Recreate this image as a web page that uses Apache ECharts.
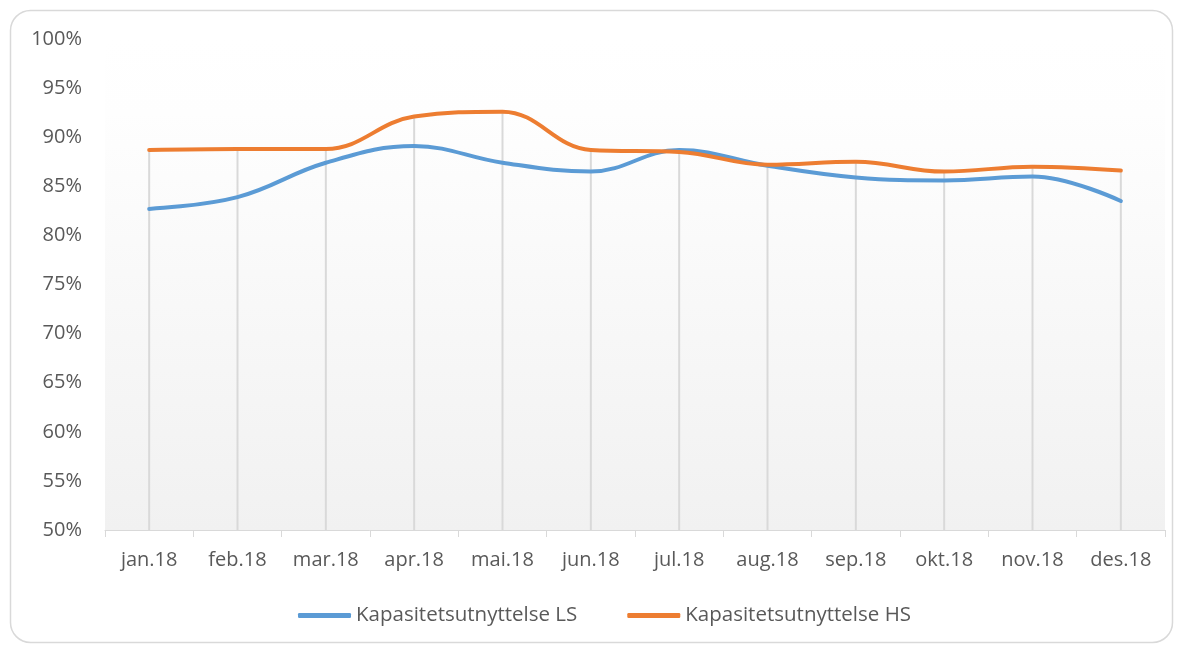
<!DOCTYPE html>
<html>
<head>
<meta charset="utf-8">
<script src="https://cdn.jsdelivr.net/npm/echarts@6/dist/echarts.min.js"></script>
<style>
  html, body { margin: 0; padding: 0; background: #ffffff; }
</style>
</head>
<body>
<div id="main" style="width: 1179px; height: 646px"></div>
<script>
var months = ["jan.18", "feb.18", "mar.18", "apr.18", "mai.18", "jun.18",
  "jul.18", "aug.18", "sep.18", "okt.18", "nov.18", "des.18"];

var dataLS = [82.7, 83.9, 87.4, 89.1, 87.4, 86.5, 88.7, 87.1, 85.9, 85.6, 86.0, 83.5];

var dataHS = [88.7, 88.8, 88.8, 92.1, 92.6, 88.7, 88.5, 87.2, 87.5, 86.5, 87.0, 86.6];

// drop lines go from the higher of the two points down to the axis
var dropData = [];
for (var i = 0; i < months.length; i++) {
  dropData.push(Math.max(dataLS[i], dataHS[i]));
}

var myChart = echarts.init(document.getElementById("main"));

var textColor = "#595959";
var fontName = "'Open Sans', 'Noto Sans', sans-serif";

var option = {
  animation: false,
  textStyle: { fontFamily: fontName },
  graphic: [
    {
      type: "rect",
      shape: { x: 10.5, y: 10.5, width: 1162, height: 632, r: 20 },
      style: { fill: "none", stroke: "#d9d9d9", lineWidth: 1.5 },
      z: -1,
    },
  ],
  legend: {
    data: ["Kapasitetsutnyttelse LS", "Kapasitetsutnyttelse HS"],
    left: 293,
    top: 600,
    icon: "roundRect",
    itemWidth: 53,
    itemHeight: 5,
    itemGap: 50,
    textStyle: {
      color: textColor,
      fontSize: 20.5,
      fontFamily: fontName,
    },
  },
  grid: {
    left: 105,
    right: 14,
    top: 39,
    bottom: 116,
    show: true,
    borderWidth: 0,
    backgroundColor: new echarts.graphic.LinearGradient(0, 0, 0, 1, [
      { offset: 0, color: "#ffffff" },
      { offset: 0.15, color: "#fefefe" },
      { offset: 1, color: "#f1f1f1" },
    ]),
  },
  xAxis: {
    type: "category",
    data: months,
    boundaryGap: true,
    axisLine: { lineStyle: { color: "#d9d9d9", width: 1 } },
    axisTick: { show: true, length: 7, lineStyle: { color: "#d9d9d9" } },
    axisLabel: {
      color: textColor,
      fontSize: 20,
      margin: 20,
      fontFamily: fontName,
    },
    splitLine: { show: false },
  },
  yAxis: {
    type: "value",
    min: 50,
    max: 100,
    interval: 5,
    axisLine: { show: false },
    axisTick: { show: false },
    splitLine: { show: false },
    axisLabel: {
      formatter: "{value}%",
      color: textColor,
      fontSize: 20,
      margin: 23,
      fontFamily: fontName,
    },
  },
  series: [
    {
      name: "drop",
      type: "bar",
      data: dropData,
      barWidth: 2,
      silent: true,
      itemStyle: { color: "#d9d9d9" },
      z: 1,
    },
    {
      name: "Kapasitetsutnyttelse LS",
      type: "line",
      data: dataLS,
      smooth: 0.4,
      symbol: "none",
      lineStyle: { color: "#5b9bd5", width: 4, cap: "round" },
      itemStyle: { color: "#5b9bd5" },
      z: 3,
    },
    {
      name: "Kapasitetsutnyttelse HS",
      type: "line",
      data: dataHS,
      smooth: 0.4,
      symbol: "none",
      lineStyle: { color: "#ed7d31", width: 4, cap: "round" },
      itemStyle: { color: "#ed7d31" },
      z: 4,
    },
  ],
};

myChart.setOption(option);
</script>
</body>
</html>
